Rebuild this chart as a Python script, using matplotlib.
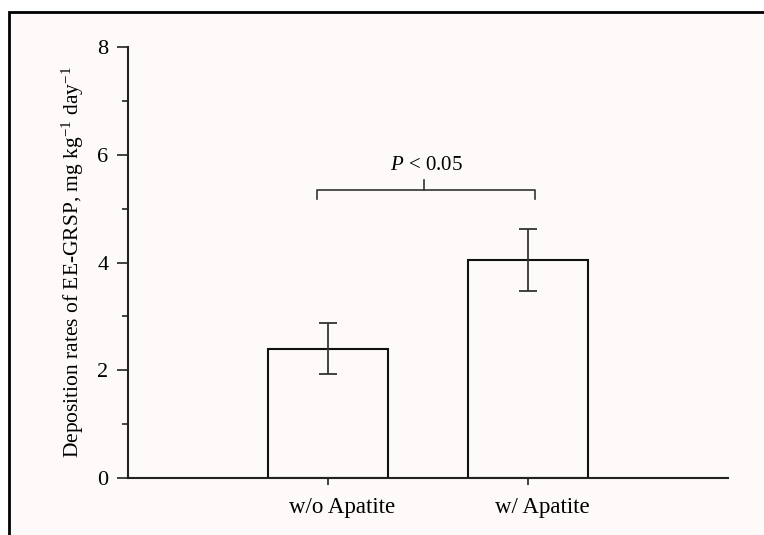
import matplotlib
matplotlib.use('Agg')
import matplotlib.pyplot as plt
import matplotlib.transforms as mtransforms
from matplotlib.patches import Rectangle

# data
groups = ['w/o Apatite', 'w/ Apatite']
means = [2.40, 4.05]
err_low = [1.93, 3.47]
err_high = [2.87, 4.63]
sig_label = '$P$ < 0.05'
yticks = [0, 2, 4, 6, 8]

plt.rcParams['font.family'] = 'Liberation Serif'
plt.rcParams['mathtext.fontset'] = 'custom'
plt.rcParams['mathtext.rm'] = 'Liberation Serif'
plt.rcParams['mathtext.it'] = 'Liberation Serif:italic'

fig = plt.figure(figsize=(7.64, 5.35), dpi=100, facecolor='white')

# frame around the plot (cropped at right and bottom)
frame = Rectangle((9 / 764, -0.1), 1.2, 1.1 - 12 / 535, transform=fig.transFigure,
                  facecolor='#fdfaf9', edgecolor='black', linewidth=2, zorder=-10)
fig.patches.append(frame)

ax = fig.add_axes([128 / 764, 57 / 535, 600 / 764, 431 / 535])
ax.set_facecolor('none')

x = list(range(len(groups)))
yerr = [[m - lo for m, lo in zip(means, err_low)],
        [hi - m for m, hi in zip(means, err_high)]]
ax.bar(x, means, width=0.6, color='none', edgecolor='#111111', linewidth=1.5, zorder=2)
ax.errorbar(x, means, yerr=yerr, fmt='none', ecolor='#333333', elinewidth=1.3,
            capsize=6.5, capthick=1.3, zorder=3)

# significance bracket
by = 5.34
ax.plot([-0.055, -0.055, 1.035, 1.035], [by - 0.17, by, by, by - 0.17],
        color='#333333', linewidth=1.2)
ax.plot([0.48, 0.48], [by, by + 0.2], color='#333333', linewidth=1.2)
ax.text(0.49, by + 0.28, sig_label, ha='center', va='bottom', fontsize=15)

ax.set_xlim(-1, 2)
ax.set_ylim(0, 8)
ax.set_yticks(yticks)
ax.set_yticks([1, 3, 5, 7], minor=True)
ax.set_xticks(x)
ax.set_xticklabels([])
# group labels sit a little to the right of their ticks
lab_tr = mtransforms.offset_copy(ax.get_xaxis_transform(), fig=fig, x=14, y=-19,
                                 units='dots')
for xi, g in zip(x, groups):
    ax.text(xi, 0, g, transform=lab_tr, ha='center', va='top', fontsize=16.5)

ax.tick_params(axis='y', which='major', length=8, width=1.2, pad=6, labelsize=16,
               color='#222222')
ax.tick_params(axis='y', which='minor', length=4.5, width=1.2, color='#222222')
ax.tick_params(axis='x', length=5, width=1.2, pad=9, color='#222222')

for s in ['top', 'right']:
    ax.spines[s].set_visible(False)
for s in ['left', 'bottom']:
    ax.spines[s].set_linewidth(1.5)
    ax.spines[s].set_color('#222222')

ax.set_ylabel('Deposition rates of EE-GRSP, mg kg$^{-1}$ day$^{-1}$', fontsize=15.5,
              labelpad=8)

fig.savefig('out.png', dpi=100, facecolor=fig.get_facecolor())
